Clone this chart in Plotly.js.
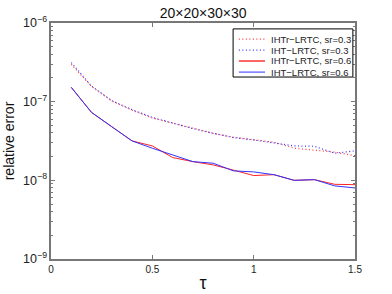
<!DOCTYPE html>
<html>
<head>
<meta charset="utf-8">
<script src="https://cdn.plot.ly/plotly-3.0.1.min.js"></script>
<style>html,body{margin:0;padding:0;background:#fff;}#chart{width:392px;height:294px;}</style>
</head>
<body>
<div id="chart"></div>
<script>
var tau = [0.1,0.2,0.3,0.4,0.5,0.6,0.7,0.8,0.9,1.0,1.1,1.2,1.3,1.4,1.5];
var ihtr03 = [2.98e-7,1.56e-7,1.02e-7,7.8e-8,6.2e-8,5.3e-8,4.6e-8,3.96e-8,3.53e-8,3.26e-8,3.05e-8,2.56e-8,2.43e-8,2.28e-8,2.06e-8];
var iht03  = [3.13e-7,1.58e-7,1.03e-7,7.9e-8,6.3e-8,5.3e-8,4.55e-8,3.96e-8,3.5e-8,3.26e-8,2.96e-8,2.74e-8,2.71e-8,2.21e-8,2.37e-8];
var ihtr06 = [1.52e-7,7.3e-8,4.8e-8,3.17e-8,2.74e-8,1.95e-8,1.73e-8,1.57e-8,1.35e-8,1.15e-8,1.18e-8,1.0e-8,1.02e-8,8.9e-9,8.8e-9];
var iht06  = [1.52e-7,7.3e-8,4.8e-8,3.17e-8,2.56e-8,2.1e-8,1.73e-8,1.65e-8,1.32e-8,1.28e-8,1.18e-8,1.0e-8,1.02e-8,8.5e-9,8.0e-9];
var names = ['IHTr\u2212LRTC, sr=0.3','IHT\u2212LRTC, sr=0.3','IHTr\u2212LRTC, sr=0.6','IHT\u2212LRTC, sr=0.6'];
var xTicks = [0,0.5,1,1.5];
var xTickText = ['0','0.5','1','1.5'];

var styles = [
  {color:'#ff3333', width:1.2, dash:'1px,2.5px'},
  {color:'#3333ff', width:1.2, dash:'1px,2.5px'},
  {color:'#ff2222', width:1, dash:'solid'},
  {color:'#3333ff', width:1, dash:'solid'}
];
var series = [ihtr03, iht03, ihtr06, iht06];
var traces = series.map(function(s,i){
  return {x:tau, y:s, name:names[i], mode:'lines', line:styles[i], showlegend:false};
});

// manual MATLAB-like legend (paper coordinates)
var rowsY = [0.932, 0.885, 0.839, 0.792];
var shapes = [{type:'rect', xref:'paper', yref:'paper', x0:0.599, x1:0.993, y0:0.771, y1:0.975,
               line:{color:'#000', width:1}, fillcolor:'#fff', layer:'above'}];
var annotations = [];
names.forEach(function(n,i){
  var st = i===2 ? {color:'#ff6666', width:2, dash:'solid'} : styles[i];
  shapes.push({type:'line', xref:'paper', yref:'paper', x0:0.618, x1:0.704, y0:rowsY[i], y1:rowsY[i], line:st, layer:'above'});
  annotations.push({xref:'paper', yref:'paper', x:0.718, y:rowsY[i], xanchor:'left', yanchor:'middle', text:n,
                    showarrow:false, font:{size:9.5, color:'#222'}});
});

var axcol = '#777777';
var layout = {
  width:392, height:294,
  margin:{l:51, r:37, t:23, b:35},
  paper_bgcolor:'#fff', plot_bgcolor:'#fff',
  font:{family:'Liberation Sans, Arial, sans-serif', size:10, color:'#222'},
  title:{text:'20\u00d720\u00d730\u00d730', font:{size:14, color:'#111'}, x:0.518, xanchor:'center', y:0.955, yanchor:'middle'},
  showlegend:false,
  shapes:shapes,
  annotations:annotations,
  xaxis:{range:[0,1.5], tickmode:'array', tickvals:xTicks, ticktext:xTickText, ticks:'inside', ticklen:4,
         tickcolor:axcol, showline:true, linecolor:axcol, linewidth:2, mirror:'ticks', showgrid:false, zeroline:false,
         tickfont:{size:10}, title:{text:'\u03c4', font:{size:18, color:'#111'}, standoff:2}},
  yaxis:{type:'log', range:[-9,-6], dtick:1, exponentformat:'power', ticks:'inside', ticklen:4,
         tickcolor:axcol, showline:true, linecolor:axcol, linewidth:2, mirror:'ticks', showgrid:false, zeroline:false,
         tickfont:{size:10}, minor:{ticks:'inside', ticklen:2, tickcolor:axcol, dtick:'D1', showgrid:false},
         title:{text:'relative error', font:{size:14, color:'#111'}, standoff:5}}
};
Plotly.newPlot('chart', traces, layout, {displayModeBar:false, staticPlot:true});
</script>
</body>
</html>
